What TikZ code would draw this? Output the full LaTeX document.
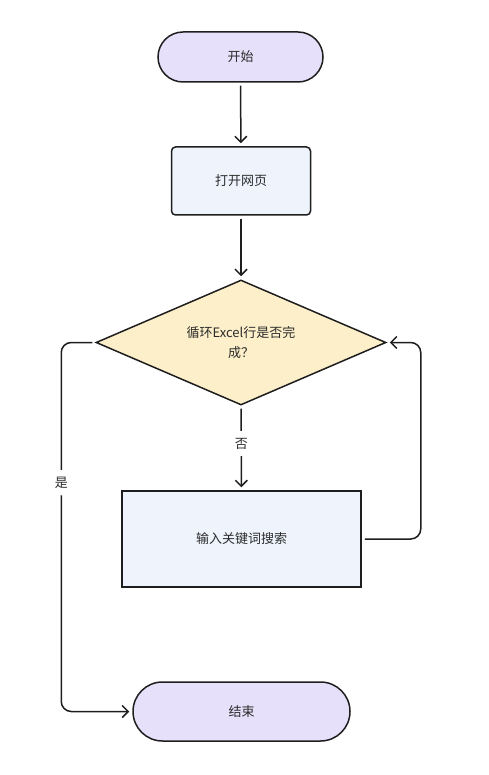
\documentclass[tikz,border=0pt]{standalone}
\usepackage{fontspec}
\setmainfont{Noto Sans CJK SC}
\usepackage{tikz}
\usetikzlibrary{arrows.meta}
\usetikzlibrary{shapes.geometric}
\definecolor{termfill}{HTML}{E7E0FA}
\definecolor{procfill}{HTML}{EEF3FC}
\definecolor{decfill}{HTML}{FCEFC9}
\definecolor{edge}{HTML}{1E1E1E}
\definecolor{label}{HTML}{2B2B2B}
\tikzset{
  % node options
  base/.style={draw=edge,line width=1.5pt,text=label,font=\fontsize{13}{20}\selectfont},
  terminal/.style={base,rectangle,rounded corners=#1,fill=termfill},
  terminal/.default=25pt,
  process/.style={base,rectangle,fill=procfill},
  decision/.style={base,diamond,aspect=2.3,inner sep=0pt,align=center,fill=decfill,
    minimum width=290pt,minimum height=125pt},
  branch/.style={fill=white,text=label,inner xsep=2pt,inner ysep=7pt,font=\fontsize{13}{15}\selectfont},
  % path options
  flow/.style={-{Straight Barb[length=6pt,width=12pt]},draw=edge,line width=1.5pt,
    shorten <=3pt,shorten >=3pt},
  loop/.style={flow,rounded corners=10pt},
}
\begin{document}
\begin{tikzpicture}[x=1pt,y=-1pt]
  \useasboundingbox (0,0) rectangle (488,775);
  \node[terminal,minimum width=165pt,minimum height=50pt] (start) at (240.5,57) {开始};
  \node[process,rounded corners=4pt,minimum width=139pt,minimum height=68pt] (open) at (241,181) {打开网页};
  \node[decision] (check) at (241,342.5) {循环Excel行是否完\\成？};
  \node[process,minimum width=239pt,minimum height=96pt] (search) at (241.5,539) {输入关键词搜索};
  \node[terminal=29.5pt,minimum width=217pt,minimum height=59pt] (end) at (241.5,711.5) {结束};
  \draw[flow] (start) -- (open);
  \draw[flow] (open) -- (check);
  \draw[flow] (check) -- node[branch,pos=0.45] {否} (search);
  \draw[loop] (search.east) -- ++(59,0) |- (check.east);
  \draw[loop] (check.west) -- ++(-34,0) |- node[branch,pos=0.19] {是} (end.west);
\end{tikzpicture}
\end{document}
